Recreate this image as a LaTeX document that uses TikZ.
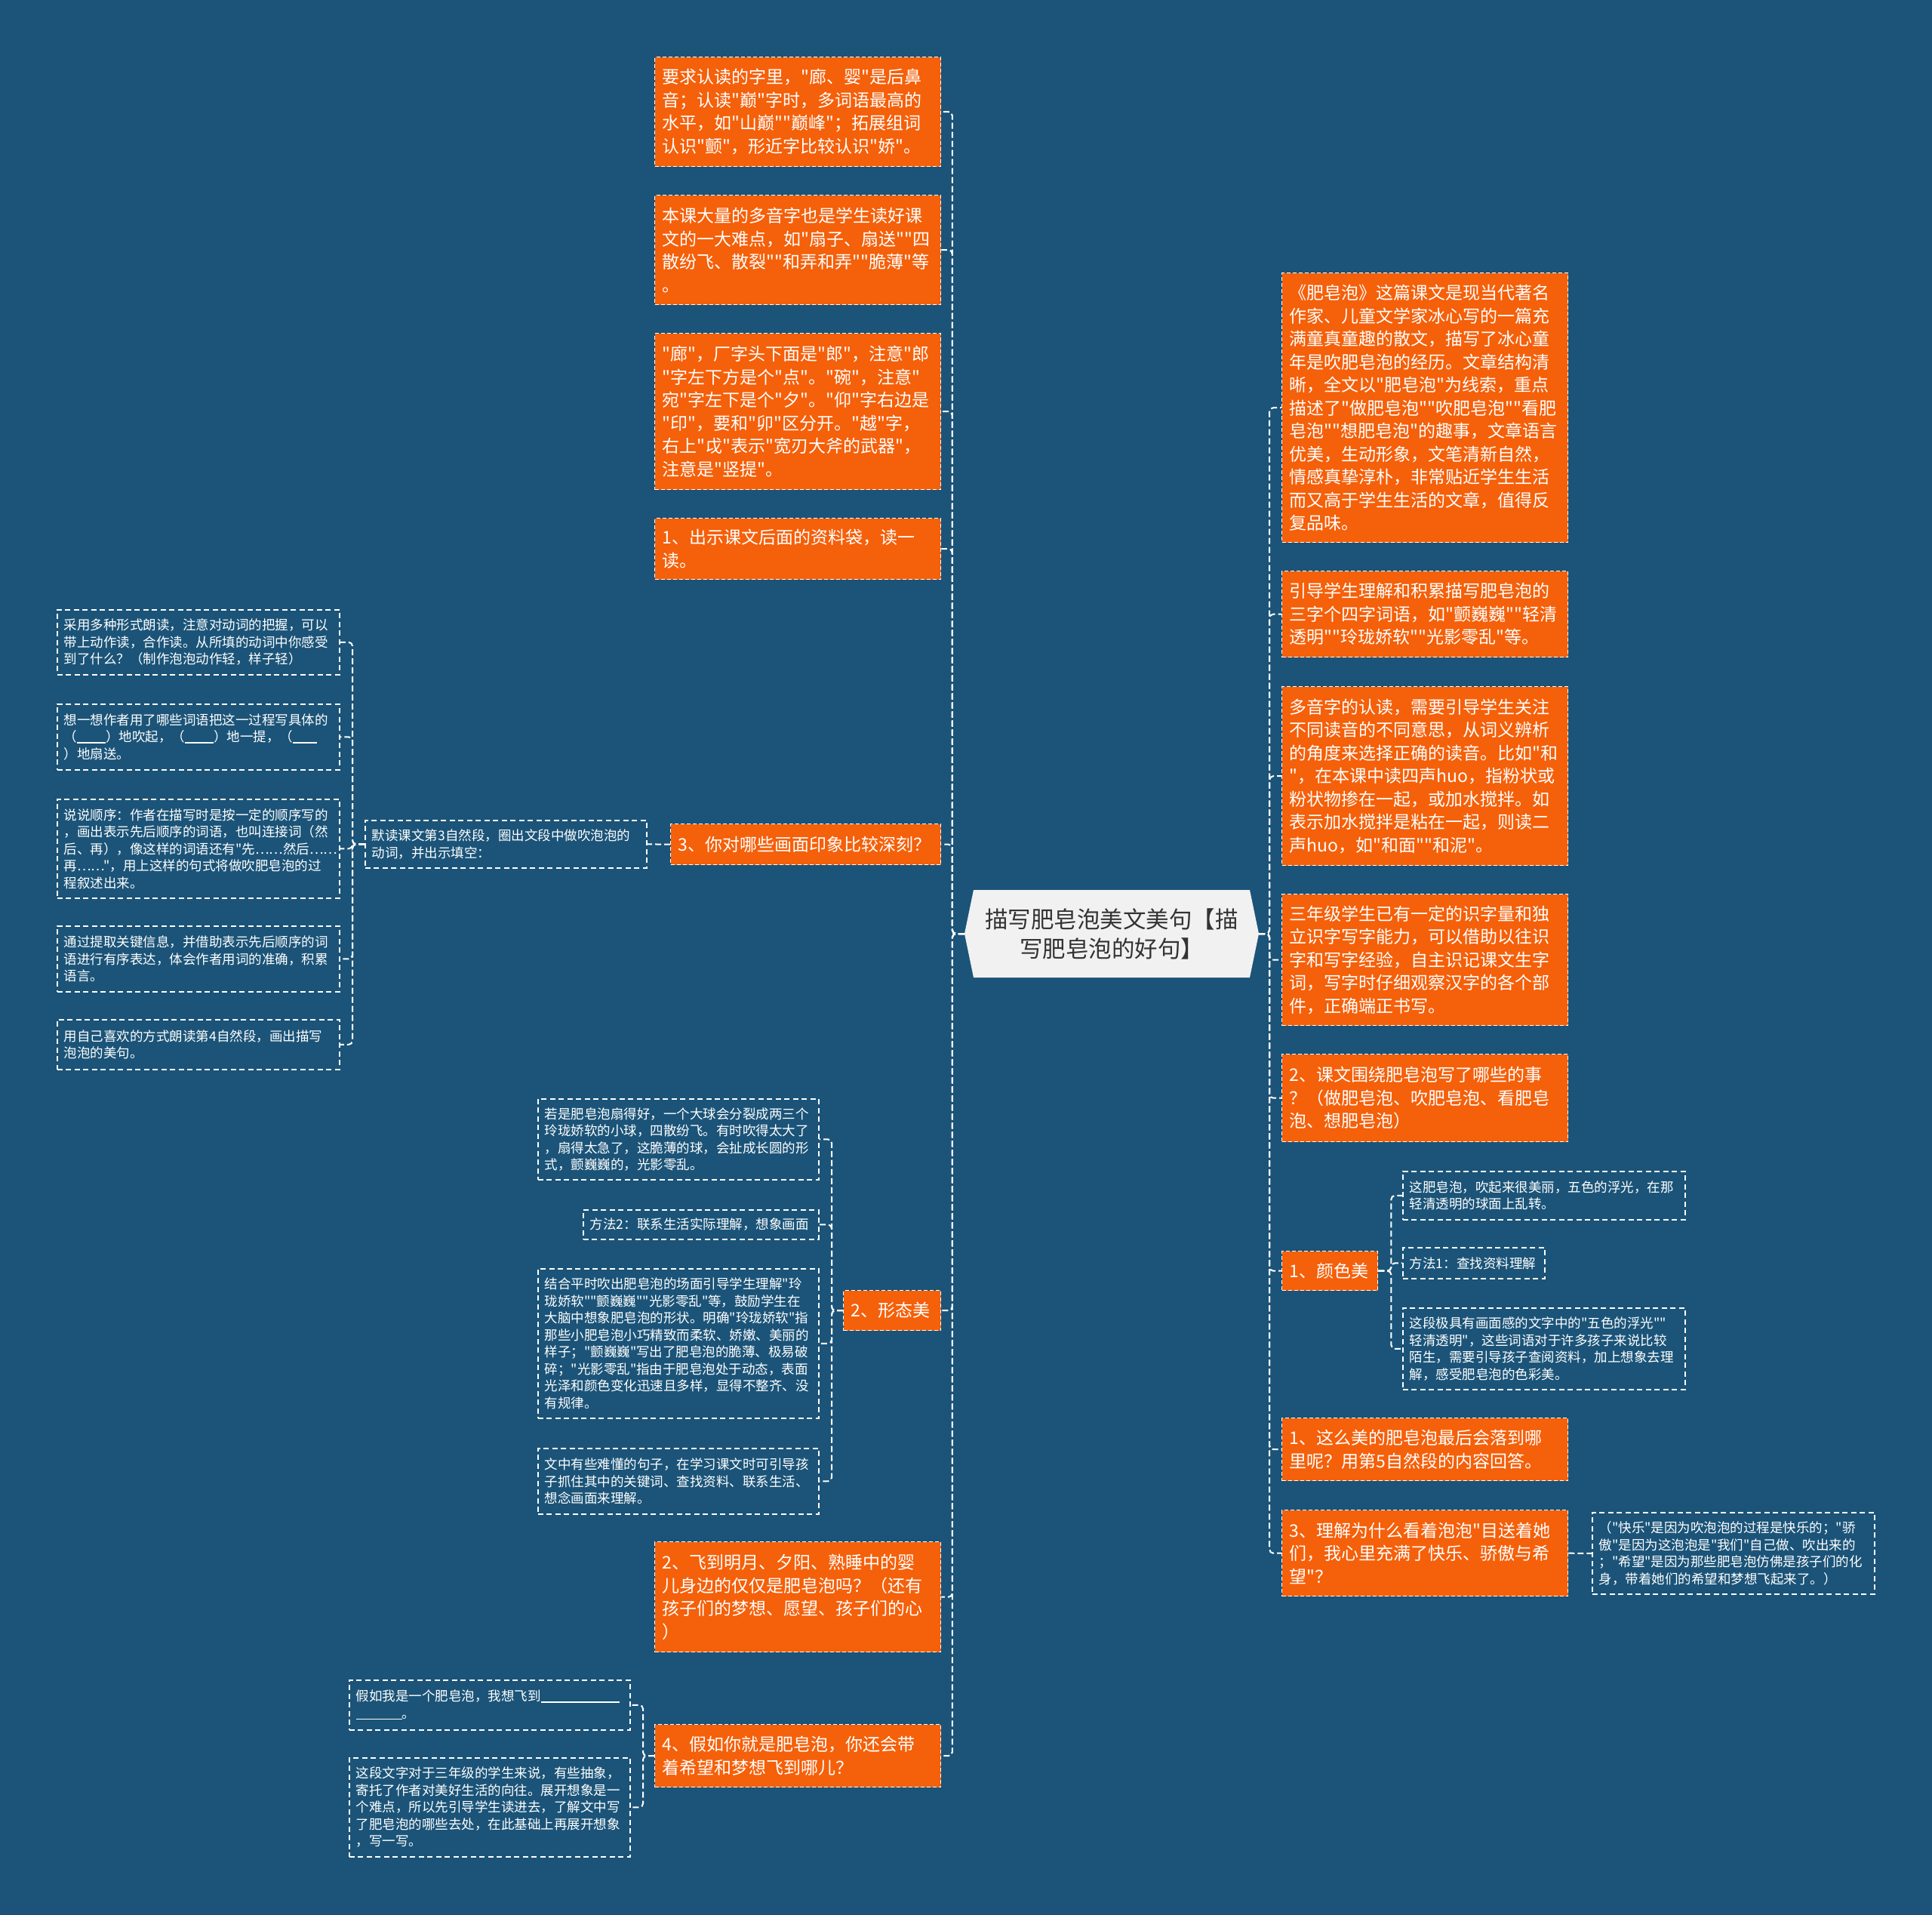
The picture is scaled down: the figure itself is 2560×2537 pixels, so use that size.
\documentclass[tikz,border=0pt]{standalone}
\usepackage{fontspec}
\usetikzlibrary{calc}
\newfontfamily\cjk{Noto Sans CJK SC}
\definecolor{bgblue}{HTML}{1B5478}
\definecolor{myorange}{HTML}{F5600A}
\definecolor{centerfill}{HTML}{F1F1F1}
\definecolor{centertext}{HTML}{333333}
\newcommand{\myblank}[1]{\rule[-2pt]{#1pt}{1.5pt}}
\begin{document}
\begin{tikzpicture}[x=1pt,y=-1pt,
  conn/.style={draw=white, line width=2pt, dash pattern=on 8pt off 4pt, rounded corners=5pt},
  obox/.style={anchor=north west, fill=myorange, draw=white, line width=1.4pt, dash pattern=on 5pt off 3pt,
    text=white, font=\cjk\fontsize{23pt}{30.5pt}\selectfont, align=left, inner xsep=10pt, inner ysep=3pt},
  dbox/.style={anchor=north west, draw=white, line width=1.7pt, dash pattern=on 7pt off 4.5pt,
    text=white, font=\cjk\fontsize{17.5pt}{22.5pt}\selectfont, align=left, inner xsep=9pt, inner ysep=3pt},
  cnode/.style={draw=none, text=centertext, font=\cjk\fontsize{30.5pt}{39pt}\selectfont, align=center,
    minimum width=390pt, minimum height=116pt, inner sep=0pt}
]
\fill[bgblue] (0,0) rectangle (2560,2537);
\useasboundingbox (0,0) rectangle (2560,2537);

% center
\coordinate (cc) at (1473,1237);
\fill[centerfill] ($(cc)+(-183,-58)$) -- ($(cc)+(183,-58)$) -- ($(cc)+(195,0)$) -- ($(cc)+(183,58)$)
  -- ($(cc)+(-183,58)$) -- ($(cc)+(-195,0)$) -- cycle;
\node[cnode] (c) at (cc) {描写肥皂泡美文美句【描\\写肥皂泡的好句】};

% left column
\node[obox, text width=359pt, minimum height=145pt] (l1) at (867,75) {要求认读的字里，"廊、婴"是后鼻\\音；认读"巅"字时，多词语最高的\\水平，如"山巅""巅峰"；拓展组词\\认识"颤"，形近字比较认识"娇"。};
\node[obox, text width=359pt, minimum height=145pt] (l2) at (867,258) {本课大量的多音字也是学生读好课\\文的一大难点，如"扇子、扇送""四\\散纷飞、散裂""和弄和弄""脆薄"等\\。};
\node[obox, text width=359pt, minimum height=207pt] (l3) at (867,441) {"廊"，厂字头下面是"郎"，注意"郎\\"字左下方是个"点"。"碗"，注意"\\宛"字左下是个"夕"。"仰"字右边是\\"印"，要和"卯"区分开。"越"字，\\右上"戉"表示"宽刃大斧的武器"，\\注意是"竖提"。};
\node[obox, text width=359pt, minimum height=81pt] (l4) at (867,686) {1、出示课文后面的资料袋，读一\\读。};
\node[obox, text width=338pt, minimum height=54pt] (l5) at (888,1091) {3、你对哪些画面印象比较深刻？};
\node[obox, text width=109pt, minimum height=53pt] (l6) at (1117,1709) {2、形态美};
\node[obox, text width=359pt, minimum height=146pt] (l7) at (867,2042) {2、飞到明月、夕阳、熟睡中的婴\\儿身边的仅仅是肥皂泡吗？（还有\\孩子们的梦想、愿望、孩子们的心\\）};
\node[obox, text width=359pt, minimum height=83pt] (l8) at (867,2284) {4、假如你就是肥皂泡，你还会带\\着希望和梦想飞到哪儿？};

% level 3 under l5
\node[dbox, text width=355pt, minimum height=63pt] (d) at (483,1086) {默读课文第3自然段，圈出文段中做吹泡泡的\\动词，并出示填空：};
\node[dbox, text width=356pt, minimum height=86pt] (s1) at (75,807) {采用多种形式朗读，注意对动词的把握，可以\\带上动作读，合作读。从所填的动词中你感受\\到了什么？（制作泡泡动作轻，样子轻）};
\node[dbox, text width=356pt, minimum height=87pt] (s2) at (75,932) {想一想作者用了哪些词语把这一过程写具体的\\（\myblank{38}）地吹起，（\myblank{38}）地一提，（\myblank{32}\\）地扇送。};
\node[dbox, text width=356pt, minimum height=131pt] (s3) at (75,1058) {说说顺序：作者在描写时是按一定的顺序写的\\，画出表示先后顺序的词语，也叫连接词（然\\后、再），像这样的词语还有"先……然后……\\再……"，用上这样的句式将做吹肥皂泡的过\\程叙述出来。};
\node[dbox, text width=356pt, minimum height=87pt] (s4) at (75,1226) {通过提取关键信息，并借助表示先后顺序的词\\语进行有序表达，体会作者用词的准确，积累\\语言。};
\node[dbox, text width=356pt, minimum height=66pt] (s5) at (75,1350) {用自己喜欢的方式朗读第4自然段，画出描写\\泡泡的美句。};

% under l6
\node[dbox, text width=354pt, minimum height=107pt] (m1) at (712,1455) {若是肥皂泡扇得好，一个大球会分裂成两三个\\玲珑娇软的小球，四散纷飞。有时吹得太大了\\，扇得太急了，这脆薄的球，会扯成长圆的形\\式，颤巍巍的，光影零乱。};
\node[dbox, text width=294pt, minimum height=39pt] (m2) at (772,1602) {方法2：联系生活实际理解，想象画面};
\node[dbox, text width=354pt, minimum height=198pt] (m3) at (712,1680) {结合平时吹出肥皂泡的场面引导学生理解"玲\\珑娇软""颤巍巍""光影零乱"等，鼓励学生在\\大脑中想象肥皂泡的形状。明确"玲珑娇软"指\\那些小肥皂泡小巧精致而柔软、娇嫩、美丽的\\样子；"颤巍巍"写出了肥皂泡的脆薄、极易破\\碎；"光影零乱"指由于肥皂泡处于动态，表面\\光泽和颜色变化迅速且多样，显得不整齐、没\\有规律。};
\node[dbox, text width=354pt, minimum height=87pt] (m4) at (712,1918) {文中有些难懂的句子，在学习课文时可引导孩\\子抓住其中的关键词、查找资料、联系生活、\\想念画面来理解。};

% under l8
\node[dbox, text width=354pt, minimum height=66pt] (b1) at (462,2225) {假如我是一个肥皂泡，我想飞到\myblank{104}\\\myblank{61}。};
\node[dbox, text width=354pt, minimum height=131pt] (b2) at (462,2328) {这段文字对于三年级的学生来说，有些抽象，\\寄托了作者对美好生活的向往。展开想象是一\\个难点，所以先引导学生读进去，了解文中写\\了肥皂泡的哪些去处，在此基础上再展开想象\\，写一写。};

% right column
\node[obox, text width=359pt, minimum height=357pt] (r1) at (1698,361) {《肥皂泡》这篇课文是现当代著名\\作家、儿童文学家冰心写的一篇充\\满童真童趣的散文，描写了冰心童\\年是吹肥皂泡的经历。文章结构清\\晰，全文以"肥皂泡"为线索，重点\\描述了"做肥皂泡""吹肥皂泡""看肥\\皂泡""想肥皂泡"的趣事，文章语言\\优美，生动形象，文笔清新自然，\\情感真挚淳朴，非常贴近学生生活\\而又高于学生生活的文章，值得反\\复品味。};
\node[obox, text width=359pt, minimum height=114pt] (r2) at (1698,756) {引导学生理解和积累描写肥皂泡的\\三字个四字词语，如"颤巍巍""轻清\\透明""玲珑娇软""光影零乱"等。};
\node[obox, text width=359pt, minimum height=237pt] (r3) at (1698,909) {多音字的认读，需要引导学生关注\\不同读音的不同意思，从词义辨析\\的角度来选择正确的读音。比如"和\\"，在本课中读四声huo，指粉状或\\粉状物掺在一起，或加水搅拌。如\\表示加水搅拌是粘在一起，则读二\\声huo，如"和面""和泥"。};
\node[obox, text width=359pt, minimum height=174pt] (r4) at (1698,1184) {三年级学生已有一定的识字量和独\\立识字写字能力，可以借助以往识\\字和写字经验，自主识记课文生字\\词，写字时仔细观察汉字的各个部\\件，正确端正书写。};
\node[obox, text width=359pt, minimum height=116pt] (r5) at (1698,1396) {2、课文围绕肥皂泡写了哪些的事\\？（做肥皂泡、吹肥皂泡、看肥皂\\泡、想肥皂泡）};
\node[obox, text width=107pt, minimum height=52pt] (r6) at (1698,1657) {1、颜色美};
\node[obox, text width=359pt, minimum height=83pt] (r7) at (1698,1878) {1、这么美的肥皂泡最后会落到哪\\里呢？用第5自然段的内容回答。};
\node[obox, text width=359pt, minimum height=114pt] (r8) at (1698,2000) {3、理解为什么看着泡泡"目送着她\\们，我心里充满了快乐、骄傲与希\\望"？};

% under r6
\node[dbox, text width=356pt, minimum height=64pt] (c1) at (1858,1551) {这肥皂泡，吹起来很美丽，五色的浮光，在那\\轻清透明的球面上乱转。};
\node[dbox, text width=170pt, minimum height=41pt] (c2) at (1858,1652) {方法1：查找资料理解};
\node[dbox, text width=356pt, minimum height=108pt] (c3) at (1858,1732) {这段极具有画面感的文字中的"五色的浮光""\\轻清透明"，这些词语对于许多孩子来说比较\\陌生，需要引导孩子查阅资料，加上想象去理\\解，感受肥皂泡的色彩美。};

% under r8
\node[dbox, text width=356pt, minimum height=108pt] (r8c) at (2109,2003) {（"快乐"是因为吹泡泡的过程是快乐的；"骄\\傲"是因为这泡泡是"我们"自己做、吹出来的\\；"希望"是因为那些肥皂泡仿佛是孩子们的化\\身，带着她们的希望和梦想飞起来了。）};

% connectors: center to left
\foreach \n in {l1,l2,l3,l4,l5,l6,l7,l8}
  \draw[conn] (c.west) -- ++(-16,0) |- (\n.east);
% center to right
\foreach \n in {r1,r2,r3,r4,r5,r6,r7,r8}
  \draw[conn] (c.east) -- ++(14,0) |- (\n.west);
% l5 -> d
\draw[conn] (l5.west) -- (d.east);
\foreach \n in {s1,s2,s3,s4,s5}
  \draw[conn] (d.west) -- ++(-16,0) |- (\n.east);
\foreach \n in {m1,m2,m3,m4}
  \draw[conn] (l6.west) -- ++(-15,0) |- (\n.east);
\foreach \n in {b1,b2}
  \draw[conn] (l8.west) -- ++(-15,0) |- (\n.east);
\foreach \n in {c1,c2,c3}
  \draw[conn] (r6.east) -- ++(17,0) |- (\n.west);
\draw[conn] (r8.east) -- (r8c.west);
\end{tikzpicture}
\end{document}
